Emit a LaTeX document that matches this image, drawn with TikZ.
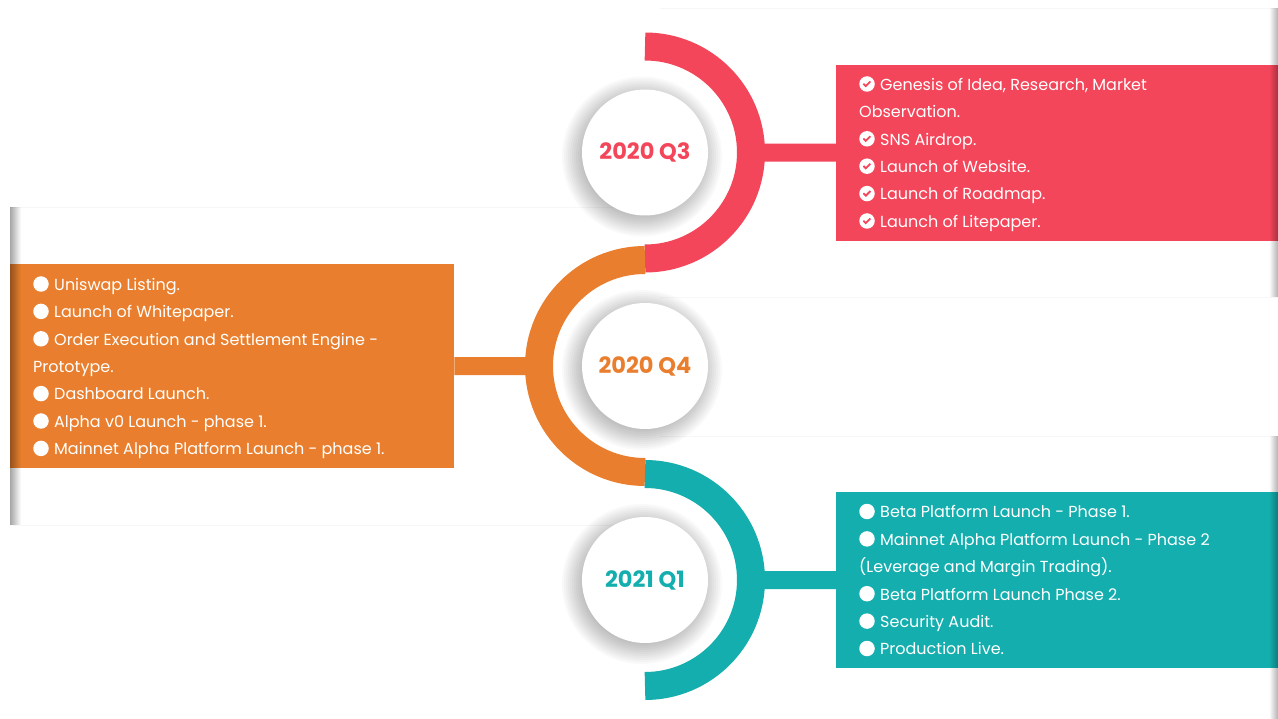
\documentclass[tikz,border=0pt]{standalone}
\usepackage{fontspec}
\setmainfont{Poppins}
\usetikzlibrary{positioning,fadings}

\definecolor{qthree}{HTML}{F4465A}
\definecolor{qfour}{HTML}{E97F2E}
\definecolor{qone}{HTML}{14AEAE}

\tikzfading[name=edge left, left color=transparent!0, right color=transparent!100]
\tikzfading[name=edge right, left color=transparent!100, right color=transparent!0]

\tikzset{
  yearball/.style={circle, fill=white, minimum size=126pt, inner sep=0pt,
    font=\fontsize{22.5}{26}\selectfont\bfseries},
  glow/.style={black, opacity=0.022},
  band/.style={line width=28pt, line cap=butt},
  hook/.style={line width=18pt},
  card/.style={rectangle, inner sep=0pt, anchor=north west},
  item/.style={anchor=base west, inner sep=0pt, text=white, font=\fontsize{16}{20}\selectfont},
  dot/.style={circle, fill=white, minimum size=15.5pt, inner sep=0pt},
  okdot/.style={dot, path picture={\draw[#1, line width=1.8pt]
      ([xshift=-3.6pt,yshift=0.3pt]path picture bounding box.center) -- ++(2.4pt,-2.4pt) -- ++(4.6pt,4.6pt);}},
}

\begin{document}
\begin{tikzpicture}[x=1pt, y=-1pt]
  \useasboundingbox[fill=white] (0,0) rectangle (1278,719);

  % faint panel edges
  \draw[black!3] (10,207) -- (640,207) (10,525) -- (640,525);
  \draw[black!3] (660,8) -- (1278,8) (660,297) -- (1278,297);
  \draw[black!3] (660,436) -- (1278,436);

  % soft shadows under the year circles
  \coordinate (q3c) at (645,152.5);
  \coordinate (q4c) at (645,366);
  \coordinate (q1c) at (645,580);
  \foreach \c in {q3c,q4c,q1c}
    \foreach \r in {60,62,...,80}
      \fill[glow] ([shift={(-3,4)}]\c) circle[radius=\r];

  % year circles
  \node[yearball, text=qthree] (q3) at (q3c) {2020 Q3};
  \node[yearball, text=qfour] (q4) at (q4c) {2020 Q4};
  \node[yearball, text=qone] (q1) at (q1c) {2021 Q1};

  % cards
  \node[card, fill=qthree, minimum width=442pt, minimum height=176pt] (q3card) at (836,64.5) {};
  \node[card, fill=qfour, minimum width=444pt, minimum height=204pt] (q4card) at (10,264) {};
  \node[card, fill=qone, minimum width=442pt, minimum height=176pt] (q1card) at (836,492) {};

  % hooks from the bands to the cards
  \coordinate[right=118pt of q3.center] (q3hook);
  \coordinate[left=118pt of q4.center] (q4hook);
  \coordinate[right=118pt of q1.center] (q1hook);
  \draw[hook, qthree] (q3hook) -- (q3card.west);
  \draw[hook, qfour] (q4hook) -- (q4card.east);
  \draw[hook, qone] (q1hook) -- (q1card.west);

  % bands
  \draw[band, qthree] (q3.center) ++(0,-106) arc[start angle=-90, end angle=90, radius=106];
  \draw[band, qfour] (q4.center) ++(0,-106) arc[start angle=-90, end angle=-270, radius=106];
  \draw[band, qone] (q1.center) ++(0,-106) arc[start angle=-90, end angle=90, radius=106];

  % 2020 Q3
  \foreach \txt/\ic [count=\i] in {{Genesis of Idea, Research, Market}/1, {Observation.}/0,
      {SNS Airdrop.}/1, {Launch of Website.}/1, {Launch of Roadmap.}/1, {Launch of Litepaper.}/1}{
    \node[item] (q3t\i) at ({859+21*\ic}, {90.3+27.4*(\i-1)}) {\txt};
    \ifnum\ic=1 \node[okdot=qthree] (q3d\i) at (867, {84+27.4*(\i-1)}) {}; \fi
  }

  % 2020 Q4
  \foreach \txt/\ic [count=\i] in {{Uniswap Listing.}/1, {Launch of Whitepaper.}/1,
      {Order Execution and Settlement Engine -}/1, {Prototype.}/0, {Dashboard Launch.}/1,
      {Alpha v0 Launch - phase 1.}/1, {Mainnet Alpha Platform Launch - phase 1.}/1}{
    \node[item] (q4t\i) at ({33+21*\ic}, {290.3+27.4*(\i-1)}) {\txt};
    \ifnum\ic=1 \node[dot] (q4d\i) at (41, {284+27.4*(\i-1)}) {}; \fi
  }

  % 2021 Q1
  \foreach \txt/\ic [count=\i] in {{Beta Platform Launch - Phase 1.}/1,
      {Mainnet Alpha Platform Launch - Phase 2}/1, {(Leverage and Margin Trading).}/0,
      {Beta Platform Launch Phase 2.}/1, {Security Audit.}/1, {Production Live.}/1}{
    \node[item] (q1t\i) at ({859+21*\ic}, {517.8+27.4*(\i-1)}) {\txt};
    \ifnum\ic=1 \node[dot] (q1d\i) at (867, {511.5+27.4*(\i-1)}) {}; \fi
  }

  % panel shadows
  \fill[black, opacity=0.35, path fading=edge left] (10,207) rectangle (21,525);
  \fill[black, opacity=0.3, path fading=edge right] (1269,8) rectangle (1278,297);
  \fill[black, opacity=0.3, path fading=edge right] (1269,436) rectangle (1278,719);
\end{tikzpicture}
\end{document}
